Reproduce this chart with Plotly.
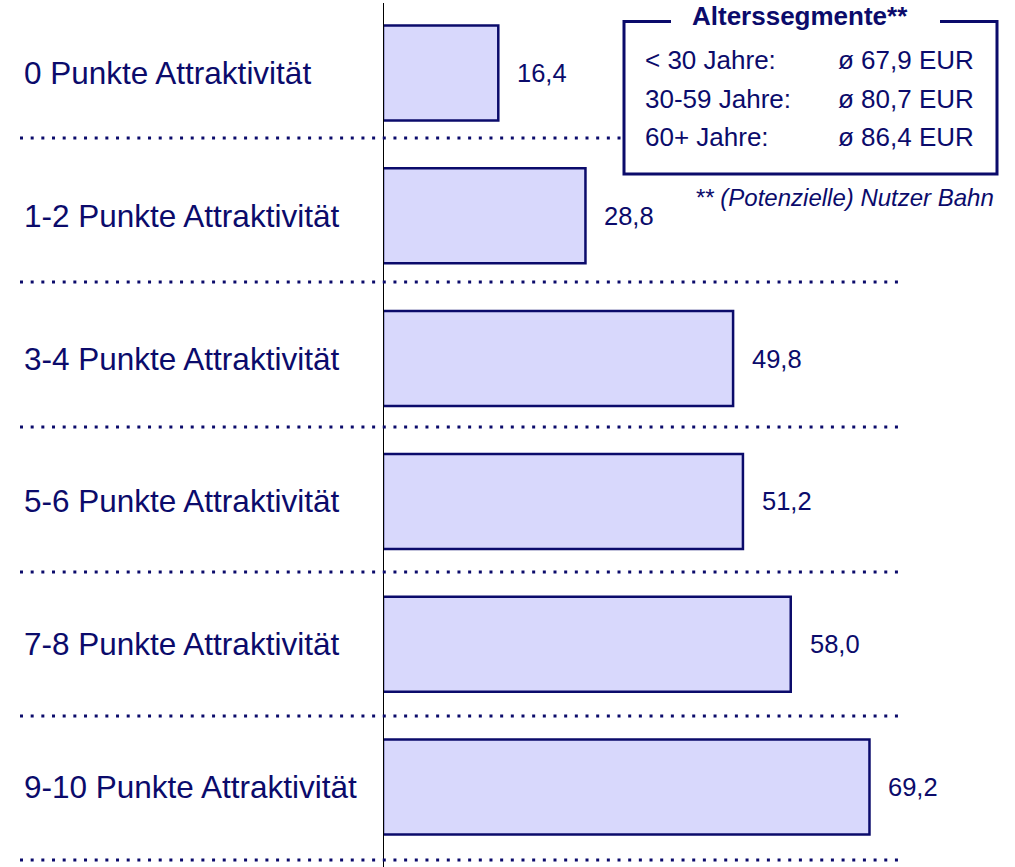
import plotly.graph_objects as go

# Daten
kategorien = ["0 Punkte Attraktivität", "1-2 Punkte Attraktivität", "3-4 Punkte Attraktivität",
              "5-6 Punkte Attraktivität", "7-8 Punkte Attraktivität", "9-10 Punkte Attraktivität"]
werte = [16.4, 28.8, 49.8, 51.2, 58.0, 69.2]

alters_gruppen = ["< 30 Jahre:", "30-59 Jahre:", "60+ Jahre:"]
alters_ausgaben = [67.9, 80.7, 86.4]
legende_titel = "Alterssegmente**"
fussnote = "** (Potenzielle) Nutzer Bahn"

W, H = 1015, 867
NAVY = "#0b0b6b"
FONT = "Liberation Sans, Arial, sans-serif"


def de(v):
    return f"{v:.1f}".replace(".", ",")


def py(p):
    # pixel from top -> paper y
    return 1 - p / H


def px(p):
    return p / W


fig = go.Figure()
fig.add_trace(go.Bar(
    x=werte, y=list(range(len(kategorien))), orientation="h",
    width=0.665,
    marker=dict(color="#d8d8fc", line=dict(color=NAVY, width=2.5)),
    hoverinfo="skip",
))

shapes = []
# vertical axis line
shapes.append(dict(type="line", xref="x", yref="paper", x0=0, x1=0, y0=0, y1=py(3),
                   line=dict(color="black", width=2), layer="above"))
# dotted separators
for yy in [0.455, 1.464, 2.479, 3.494, 4.503, 5.511]:
    shapes.append(dict(type="line", xref="paper", yref="y", x0=px(20), x1=px(899), y0=yy, y1=yy,
                       line=dict(color=NAVY, width=3, dash="3px,7.67px"), layer="above"))
# legend box: white fill, then border with a gap for the title
shapes.append(dict(type="rect", xref="paper", yref="paper", x0=px(624), x1=px(997),
                   y0=py(174), y1=py(21.5), fillcolor="white", line=dict(width=0), layer="above"))
path = (f"M {px(671)},{py(21.5)} L {px(624)},{py(21.5)} L {px(624)},{py(174)} "
        f"L {px(997)},{py(174)} L {px(997)},{py(21.5)} L {px(940)},{py(21.5)}")
shapes.append(dict(type="path", xref="paper", yref="paper", path=path,
                   line=dict(color=NAVY, width=3), layer="above"))

annotations = []
for i, k in enumerate(kategorien):
    annotations.append(dict(text=k, xref="paper", yref="y", x=px(22), y=i, xanchor="left",
                            yanchor="middle", showarrow=False,
                            font=dict(family=FONT, size=31.5, color=NAVY)))
for i, v in enumerate(werte):
    annotations.append(dict(text=de(v), xref="x", yref="y", x=v, y=i, xshift=17, xanchor="left",
                            yanchor="middle", showarrow=False,
                            font=dict(family=FONT, size=25.5, color=NAVY)))

annotations.append(dict(text=f"<b>{legende_titel}</b>", xref="paper", yref="paper", x=px(800), y=py(16),
                        xanchor="center", yanchor="middle", showarrow=False,
                        font=dict(family=FONT, size=26, color=NAVY)))
for j, (g, a) in enumerate(zip(alters_gruppen, alters_ausgaben)):
    yy = py(60 + j * 38.5)
    annotations.append(dict(text=g, xref="paper", yref="paper", x=px(643), y=yy, xanchor="left",
                            yanchor="middle", showarrow=False,
                            font=dict(family=FONT, size=26, color=NAVY)))
    annotations.append(dict(text=f"ø {de(a)} EUR", xref="paper", yref="paper", x=px(836), y=yy,
                            xanchor="left", yanchor="middle", showarrow=False,
                            font=dict(family=FONT, size=26, color=NAVY)))
annotations.append(dict(text=f"<i>{fussnote}</i>", xref="paper", yref="paper", x=px(996), y=py(198),
                        xanchor="right", yanchor="middle", showarrow=False,
                        font=dict(family=FONT, size=24, color=NAVY)))

fig.update_layout(
    width=W, height=H,
    margin=dict(l=0, r=0, t=0, b=0),
    paper_bgcolor="white", plot_bgcolor="white",
    showlegend=False,
    xaxis=dict(domain=[383 / W, 1], range=[0, 632 / 7.03], visible=False, fixedrange=True),
    yaxis=dict(range=[5.56, -0.511], visible=False, fixedrange=True),
    shapes=shapes,
    annotations=annotations,
)

# drop the default page margin so the chart sits at the window origin
fig.write_html("out.html", config={"displayModeBar": False},
               post_script="document.body.style.margin='0';document.body.style.overflow='hidden';")
